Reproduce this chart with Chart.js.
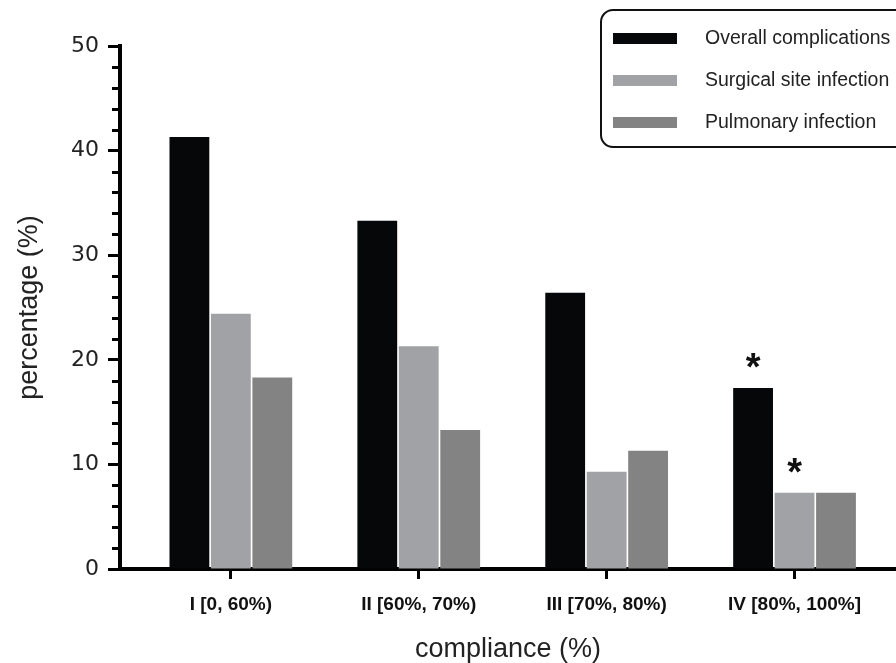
<!DOCTYPE html>
<html>
<head>
<meta charset="utf-8">
<script src="https://cdn.jsdelivr.net/npm/chart.js@4.4.1/dist/chart.umd.min.js"></script>
<style>
  html, body { margin: 0; padding: 0; background: #fff; }
</style>
</head>
<body>
<canvas id="chart" width="896" height="663"></canvas>
<script>
const groups = ["I [0, 60%)", "II [60%, 70%)", "III [70%, 80%)", "IV [80%, 100%]"];
const overall = [41.3, 33.3, 26.4, 17.3];
const surgicalSite = [24.4, 21.3, 9.3, 7.3];
const pulmonary = [18.3, 13.3, 11.3, 7.3];
const yTicks = [0, 10, 20, 30, 40, 50];
// asterisks: [dataset index, group index]
const significant = [[0, 3], [1, 3]];

const sans = "'Liberation Sans', Arial, sans-serif";

// groups sit at x = 1..4 on a linear axis so the gap after the y axis can be kept
function toPoints(values) {
  return values.map((v, i) => ({ x: i + 1, y: v }));
}

// small ticks every 2 units between the labelled ones
const minorTicks = {
  id: "minorTicks",
  afterDraw(chart) {
    const { ctx, chartArea } = chart;
    const y = chart.scales.y;
    ctx.save();
    ctx.strokeStyle = "#000";
    ctx.lineWidth = 3;
    for (let v = 2; v < 50; v += 2) {
      if (v % 10 === 0) continue;
      const py = Math.round(y.getPixelForValue(v)) + 0.5;
      ctx.beginPath();
      ctx.moveTo(chartArea.left - 8, py);
      ctx.lineTo(chartArea.left, py);
      ctx.stroke();
    }
    ctx.restore();
  },
};

// boxed legend with rounded corners, like the original figure
const boxLegend = {
  id: "boxLegend",
  afterDraw(chart) {
    const { ctx } = chart;
    ctx.save();
    ctx.strokeStyle = "#111";
    ctx.lineWidth = 2;
    ctx.beginPath();
    ctx.roundRect(601, 10, 320, 137, 12);
    ctx.stroke();
    ctx.font = "19.5px " + sans;
    ctx.textBaseline = "middle";
    chart.data.datasets.forEach((ds, i) => {
      const cy = 38 + i * 42;
      ctx.fillStyle = ds.backgroundColor;
      ctx.fillRect(613, cy - 5, 64, 11);
      ctx.fillStyle = "#222";
      ctx.fillText(ds.label, 705, cy + 1);
    });
    ctx.restore();
  },
};

const asterisks = {
  id: "asterisks",
  afterDatasetsDraw(chart) {
    const { ctx } = chart;
    ctx.save();
    ctx.font = "bold 38px " + sans;
    ctx.textAlign = "center";
    ctx.textBaseline = "alphabetic";
    ctx.fillStyle = "#111";
    significant.forEach(([d, i]) => {
      const bar = chart.getDatasetMeta(d).data[i];
      ctx.fillText("*", bar.x, bar.y - 8);
    });
    ctx.restore();
  },
};

new Chart(document.getElementById("chart"), {
  type: "bar",
  data: {
    datasets: [
      { label: "Overall complications", data: toPoints(overall), backgroundColor: "#060708" },
      { label: "Surgical site infection", data: toPoints(surgicalSite), backgroundColor: "#a1a2a6" },
      { label: "Pulmonary infection", data: toPoints(pulmonary), backgroundColor: "#838383" },
    ],
  },
  options: {
    responsive: false,
    animation: false,
    layout: { padding: { top: 46, right: 0, bottom: 0, left: 0 } },
    datasets: { bar: { categoryPercentage: 0.662, barPercentage: 0.96 } },
    plugins: {
      legend: { display: false },
      tooltip: { enabled: false },
    },
    scales: {
      x: {
        type: "linear",
        min: 0.41,
        max: 4.54,
        offset: false,
        z: 1,
        afterBuildTicks: (scale) => {
          scale.ticks = groups.map((_, i) => ({ value: i + 1 }));
        },
        afterFit: (scale) => {
          scale.height = 94;
        },
        ticks: {
          callback: (value, index) => groups[index],
          autoSkip: false,
          maxRotation: 0,
          padding: 14,
          color: "#111",
          font: { family: sans, size: 19, weight: "bold" },
        },
        grid: { offset: false, drawOnChartArea: false, tickLength: 10, tickWidth: 3, tickColor: "#000" },
        border: { color: "#000", width: 4 },
        title: {
          display: true,
          text: "compliance (%)",
          color: "#222",
          padding: { top: 0, bottom: 0 },
          font: { family: sans, size: 27, lineHeight: 1 },
        },
      },
      y: {
        min: 0,
        max: 50,
        z: 1,
        afterFit: (scale) => {
          scale.width = 120;
        },
        afterBuildTicks: (scale) => {
          scale.ticks = yTicks.map((v) => ({ value: v }));
        },
        ticks: {
          padding: 9,
          color: "#222",
          font: { family: "'DejaVu Sans', sans-serif", size: 22 },
        },
        grid: { drawOnChartArea: false, tickLength: 12, tickWidth: 3, tickColor: "#000" },
        border: { color: "#000", width: 4 },
        title: {
          display: true,
          text: "percentage (%)",
          color: "#222",
          padding: { top: 16, bottom: 0 },
          font: { family: sans, size: 27, lineHeight: 1 },
        },
      },
    },
  },
  plugins: [minorTicks, asterisks, boxLegend],
});
</script>
</body>
</html>
